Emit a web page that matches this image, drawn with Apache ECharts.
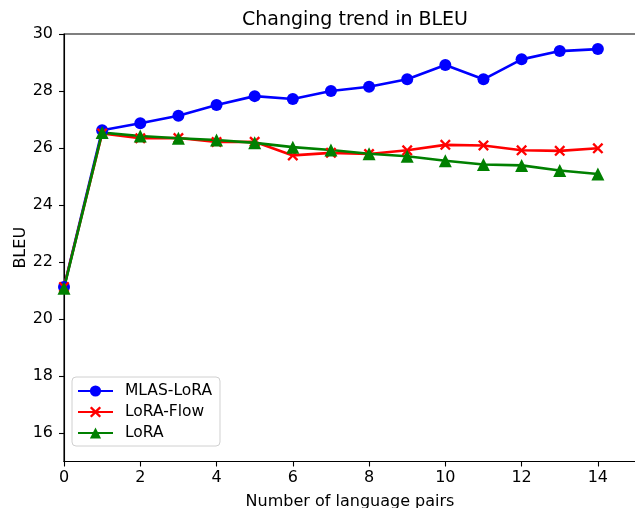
<!DOCTYPE html>
<html><head><meta charset="utf-8">
<script src="https://cdn.jsdelivr.net/npm/echarts@6/dist/echarts.min.js"></script>
<style>html,body{margin:0;padding:0;background:#fff}#c{width:635px;height:508px}</style>
</head><body><div id="c"></div>
<script>
const xValues = [0,1,2,3,4,5,6,7,8,9,10,11,12,13,14];
const mlasLoRA = [21.12,26.62,26.87,27.13,27.51,27.82,27.72,28.0,28.15,28.41,28.91,28.41,29.11,29.40,29.47];
const loraFlow = [21.12,26.51,26.34,26.35,26.21,26.22,25.74,25.83,25.79,25.92,26.11,26.09,25.92,25.90,25.99];
const lora     = [21.08,26.54,26.42,26.34,26.28,26.18,26.03,25.93,25.80,25.71,25.55,25.42,25.39,25.21,25.09];
const xTicks = [0,2,4,6,8,10,12,14];
const yTicks = [16,18,20,22,24,26,28,30];
const seriesNames = ['MLAS-LoRA','LoRA-Flow','LoRA'];

const FONT = 'DejaVu Sans';
const xPath = 'path://M0,1.5L1.5,0L5,3.5L8.5,0L10,1.5L6.5,5L10,8.5L8.5,10L5,6.5L1.5,10L0,8.5L3.5,5Z';
const pairs = arr => xValues.map((x,i)=>[x,arr[i]]);

const chart = echarts.init(document.getElementById('c'), null, {renderer:'canvas'});
chart.setOption({
  animation:false,
  backgroundColor:'#fff',
  title:{text:'Changing trend in BLEU', left:350, textAlign:'center', top:6,
    textStyle:{fontFamily:FONT, fontSize:19, fontWeight:'normal', color:'#000'}},
  grid:{left:64, top:34, width:572, height:427.5, show:true, borderColor:'#000', borderWidth:1.1,
    containLabel:false, outerBoundsMode:'none'},
  legend:{orient:'vertical', left:72, top:377, data:seriesNames,
    itemWidth:35, itemHeight:14, itemGap:5,
    padding:[6,8,5,5],
    backgroundColor:'rgba(255,255,255,0.8)', borderColor:'#d0d0d0', borderWidth:1, borderRadius:4,
    textStyle:{fontFamily:FONT, fontSize:15.5, color:'#000', padding:[0,0,0,7]}},
  xAxis:{type:'value', min:0, max:15,
    name:'Number of language pairs', nameLocation:'middle', nameGap:32, nameMoveOverlap:false,
    nameTextStyle:{fontFamily:FONT, fontSize:16, color:'#000'},
    axisLine:{show:true, lineStyle:{color:'#000', width:1.1}},
    axisTick:{show:true, length:5, lineStyle:{color:'#000', width:1.1}, customValues:xTicks},
    axisLabel:{fontFamily:FONT, fontSize:16, color:'#000', margin:8, customValues:xTicks},
    splitLine:{show:false}},
  yAxis:{type:'value', min:15, max:30,
    name:'BLEU', nameLocation:'middle', nameGap:35, nameMoveOverlap:false,
    nameTextStyle:{fontFamily:FONT, fontSize:16, color:'#000'},
    axisLine:{show:true, lineStyle:{color:'#000', width:1.1}},
    axisTick:{show:true, length:5, lineStyle:{color:'#000', width:1.1}, customValues:yTicks},
    axisLabel:{fontFamily:FONT, fontSize:16, color:'#000', margin:11, customValues:yTicks},
    splitLine:{show:false}},
  series:[
    {name:seriesNames[0], type:'line', data:pairs(mlasLoRA), symbol:'circle', symbolSize:12,
      lineStyle:{color:'#0000ff', width:2.6}, itemStyle:{color:'#0000ff'}},
    {name:seriesNames[1], type:'line', data:pairs(loraFlow), symbol:xPath, symbolSize:11,
      lineStyle:{color:'#ff0000', width:2.6}, itemStyle:{color:'#ff0000'}},
    {name:seriesNames[2], type:'line', data:pairs(lora), symbol:'triangle', symbolSize:13,
      lineStyle:{color:'#008000', width:2.6}, itemStyle:{color:'#008000'}}
  ]
});
</script></body></html>
